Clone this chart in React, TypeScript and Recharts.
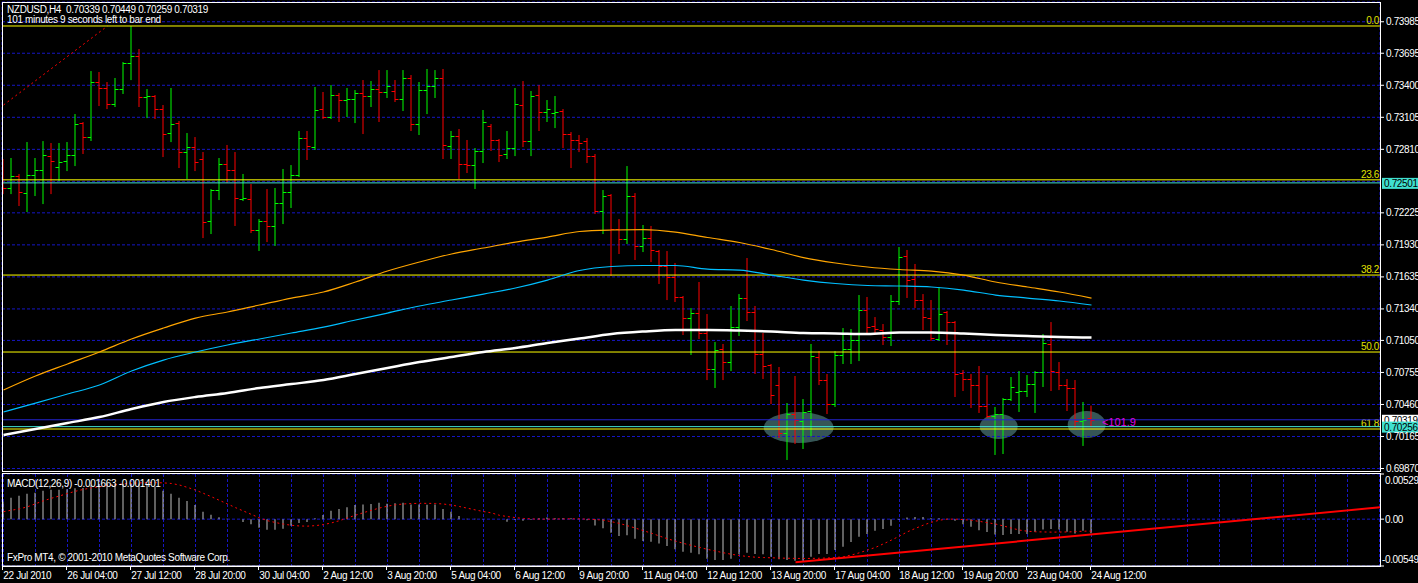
import React from 'react'
import {
  ComposedChart,
  Bar,
  Line,
  XAxis,
  YAxis,
  CartesianGrid,
  ReferenceLine,
  ReferenceDot,
} from 'recharts'

const FONT = '"Liberation Sans", Arial, sans-serif'
const GRID = '#1616c4'

// NZDUSD H4 bars, 22 Jul 2010 20:00 .. 24 Aug 2010 12:00
const opens = [
  0.72619, 0.72454, 0.72564, 0.72407, 0.72573, 0.72619, 0.72748, 0.72647, 0.72702, 0.72757,
  0.73052, 0.72923, 0.7343, 0.73375, 0.73227, 0.73365, 0.73605, 0.73669, 0.73292, 0.73301,
  0.73181, 0.7296, 0.73052, 0.72785, 0.72831, 0.72721, 0.7215, 0.72435, 0.72675, 0.72619,
  0.72352, 0.72352, 0.72067, 0.7215, 0.72104, 0.72315, 0.72417, 0.72573, 0.72914, 0.72831,
  0.73181, 0.73107, 0.7331, 0.73264, 0.73273, 0.73329, 0.73301, 0.73365, 0.73338, 0.73347,
  0.73273, 0.73467, 0.73043, 0.73356, 0.73393, 0.73467, 0.7284, 0.72932, 0.72675, 0.72665,
  0.72794, 0.73025, 0.72896, 0.72767, 0.72822, 0.73218, 0.72886, 0.7331, 0.73154, 0.73144,
  0.73163, 0.72951, 0.72896, 0.72886, 0.72748, 0.72242, 0.72389, 0.72076, 0.71984, 0.7238,
  0.71919, 0.71993, 0.71873, 0.71735, 0.71634, 0.7145, 0.71256, 0.71302, 0.71118, 0.70787,
  0.70971, 0.70851, 0.71173, 0.7144, 0.71312, 0.70925, 0.70823, 0.70639, 0.70197, 0.70372,
  0.70308, 0.704, 0.70897, 0.70685, 0.70464, 0.70915, 0.70971, 0.71054, 0.7133, 0.71183,
  0.71146, 0.71081, 0.71413, 0.71827, 0.71615, 0.71422, 0.71256, 0.71063, 0.71312, 0.71219,
  0.7075, 0.70694, 0.70639, 0.70446, 0.70354, 0.70372, 0.7051, 0.70575, 0.70584, 0.70648,
  0.70759, 0.71017, 0.70759, 0.70639, 0.70612, 0.70308, 0.70339,
]
const highs = [
  0.72721, 0.7273, 0.72583, 0.72877, 0.7273, 0.72886, 0.72868, 0.72868, 0.72877, 0.73135,
  0.73061, 0.73531, 0.73522, 0.7343, 0.73467, 0.73614, 0.73946, 0.73734, 0.73365, 0.7331,
  0.73218, 0.73375, 0.73071, 0.7296, 0.72923, 0.72785, 0.72444, 0.7273, 0.7285, 0.72785,
  0.72583, 0.7249, 0.72168, 0.72444, 0.72454, 0.72629, 0.72665, 0.72979, 0.72979, 0.73384,
  0.73338, 0.73402, 0.73329, 0.73375, 0.73356, 0.73448, 0.73439, 0.7354, 0.7354, 0.73448,
  0.7354, 0.73494, 0.7343, 0.7355, 0.7354, 0.7355, 0.72979, 0.72997, 0.72896, 0.72822,
  0.73172, 0.73043, 0.72905, 0.72979, 0.73375, 0.73439, 0.73347, 0.73402, 0.73264, 0.73301,
  0.73181, 0.72969, 0.72942, 0.72914, 0.72767, 0.72435, 0.72398, 0.72168, 0.72656, 0.72407,
  0.72113, 0.72104, 0.71883, 0.71873, 0.71763, 0.71459, 0.71348, 0.71588, 0.71293, 0.71035,
  0.71017, 0.71367, 0.71477, 0.71809, 0.71367, 0.71118, 0.70833, 0.70805, 0.70473, 0.70722,
  0.7051, 0.71017, 0.70952, 0.7074, 0.70952, 0.71164, 0.71155, 0.71468, 0.7145, 0.71265,
  0.71201, 0.71468, 0.7191, 0.71883, 0.71754, 0.71477, 0.71422, 0.71542, 0.71321, 0.71229,
  0.70777, 0.7074, 0.70814, 0.70731, 0.70437, 0.70519, 0.70713, 0.70768, 0.70731, 0.70768,
  0.71109, 0.71219, 0.70851, 0.70694, 0.70685, 0.70483, 0.70449,
]
const lows = [
  0.72407, 0.72407, 0.72297, 0.72242, 0.72389, 0.72315, 0.72407, 0.72527, 0.72619, 0.72665,
  0.72776, 0.72896, 0.73218, 0.7319, 0.73209, 0.73329, 0.73457, 0.73209, 0.73107, 0.73098,
  0.72748, 0.72886, 0.72647, 0.72546, 0.72619, 0.72002, 0.72039, 0.72352, 0.72509, 0.72113,
  0.72343, 0.72048, 0.71883, 0.71965, 0.71929, 0.72131, 0.72279, 0.72564, 0.72721, 0.72813,
  0.73098, 0.73098, 0.73071, 0.73117, 0.73061, 0.7296, 0.73209, 0.73071, 0.73292, 0.73255,
  0.73172, 0.72988, 0.72951, 0.73144, 0.73292, 0.7273, 0.7273, 0.72546, 0.72601, 0.72454,
  0.72693, 0.72804, 0.72702, 0.7273, 0.72757, 0.7284, 0.72757, 0.72988, 0.73071, 0.73015,
  0.72831, 0.72647, 0.72794, 0.72693, 0.72223, 0.72039, 0.71652, 0.71855, 0.71947, 0.718,
  0.71873, 0.71781, 0.71579, 0.71431, 0.71413, 0.71109, 0.70925, 0.71072, 0.70694, 0.70621,
  0.70694, 0.70777, 0.711, 0.71238, 0.7075, 0.70704, 0.70473, 0.7016, 0.69958, 0.70105,
  0.70059, 0.70179, 0.70648, 0.70381, 0.70446, 0.70842, 0.70842, 0.70869, 0.71118, 0.71118,
  0.71017, 0.71008, 0.71385, 0.7145, 0.71358, 0.71155, 0.71054, 0.71054, 0.71017, 0.70538,
  0.70593, 0.70437, 0.70391, 0.70344, 0.70004, 0.70013, 0.70501, 0.704, 0.70538, 0.70391,
  0.7063, 0.70593, 0.70602, 0.70409, 0.70252, 0.70087, 0.70259,
]
const closes = [
  0.72454, 0.72564, 0.72417, 0.72573, 0.72619, 0.72757, 0.72702, 0.72693, 0.72757, 0.73043,
  0.72923, 0.7343, 0.73375, 0.73227, 0.73365, 0.73605, 0.73669, 0.73292, 0.73301, 0.73181,
  0.72951, 0.73043, 0.72785, 0.72831, 0.72693, 0.7214, 0.72435, 0.72675, 0.72619, 0.72361,
  0.72361, 0.72067, 0.7215, 0.72104, 0.72315, 0.72417, 0.72573, 0.72914, 0.7284, 0.73172,
  0.73107, 0.7331, 0.73264, 0.73273, 0.73329, 0.73301, 0.73365, 0.73338, 0.73393, 0.73273,
  0.73467, 0.73043, 0.73356, 0.73393, 0.73467, 0.7285, 0.72932, 0.72675, 0.72665, 0.72794,
  0.73061, 0.72896, 0.72757, 0.72822, 0.73227, 0.72886, 0.73301, 0.73154, 0.73181, 0.73154,
  0.72951, 0.72896, 0.72868, 0.72748, 0.72242, 0.7238, 0.72076, 0.71984, 0.7238, 0.71919,
  0.71993, 0.71883, 0.71735, 0.71634, 0.7145, 0.71256, 0.71302, 0.71118, 0.70787, 0.70962,
  0.70851, 0.71173, 0.7144, 0.71312, 0.70925, 0.70814, 0.70547, 0.70197, 0.70372, 0.70317,
  0.70391, 0.70906, 0.70685, 0.70464, 0.70915, 0.70971, 0.71054, 0.7133, 0.71173, 0.71155,
  0.71081, 0.71413, 0.71818, 0.71606, 0.71422, 0.71265, 0.71072, 0.71293, 0.71219, 0.7074,
  0.70694, 0.70639, 0.70446, 0.70354, 0.70372, 0.7051, 0.70621, 0.70584, 0.70648, 0.70759,
  0.71026, 0.70768, 0.70639, 0.70612, 0.70308, 0.70317, 0.70319,
]

// moving averages, read every 4th bar
const maOrange = [
  0.70593, 0.70722, 0.70833, 0.70943, 0.71063, 0.71164, 0.71256, 0.71312, 0.71376, 0.7144,
  0.71496, 0.71588, 0.71689, 0.71772, 0.71846, 0.71901, 0.71956, 0.72002, 0.72053, 0.72067,
  0.72071, 0.72048, 0.71998, 0.71952, 0.71887, 0.71813, 0.71763, 0.71726, 0.71703, 0.71689,
  0.71652, 0.71588, 0.71542, 0.71496, 0.7144,
]
const maBlue = [
  0.70391, 0.70473, 0.70556, 0.70639, 0.70768, 0.70869, 0.70943, 0.71008, 0.71063, 0.71118,
  0.71173, 0.71238, 0.71302, 0.71367, 0.71422, 0.71477, 0.71533, 0.71606, 0.71694, 0.71731,
  0.7174, 0.7174, 0.71707, 0.71698, 0.71652, 0.71606, 0.71574, 0.71556, 0.71551, 0.71542,
  0.71514, 0.71468, 0.7144, 0.71413, 0.71376,
]
const maWhite = [
  0.70179, 0.70234, 0.70289, 0.70344, 0.70418, 0.70483, 0.70529, 0.70566, 0.70612, 0.70648,
  0.70685, 0.7074, 0.70796, 0.70851, 0.70897, 0.70943, 0.7098, 0.71026, 0.71067, 0.71109,
  0.71132, 0.71146, 0.71146, 0.71141, 0.71132, 0.71118, 0.71114, 0.71109, 0.71123, 0.71123,
  0.71114, 0.711, 0.7109, 0.71081, 0.71077,
]

// MACD(12,26,9)
const macdMain = [
  0.00204, 0.00251, 0.00274, 0.00298, 0.00309, 0.00333, 0.00345, 0.00345, 0.00349, 0.00361,
  0.00364, 0.00396, 0.00411, 0.00411, 0.00411, 0.00411, 0.00419, 0.00419, 0.00411, 0.0038,
  0.00333, 0.00298, 0.00251, 0.00212, 0.00165, 0.00087, 0.00052, 0.00021, 0.00005, -0.00002,
  -0.00034, -0.00061, -0.001, -0.00124, -0.00124, -0.00112, -0.00077, -0.00046, -0.00034, 0.0001,
  0.00048, 0.00098, 0.00118, 0.00138, 0.00165, 0.00173, 0.00177, 0.00192, 0.0018, 0.00185,
  0.00192, 0.00173, 0.00173, 0.00169, 0.00173, 0.00118, 0.00087, 0.00036, 0.00005, 0.00005,
  0.00002, -0.00001, -0.00002, -0.0003, -0.0001, -0.0002, -0.0001, 0.0001, 0.0002, 0.0001,
  0.0001, 0.0001, 0.00005, -0.00013, -0.00073, -0.00108, -0.00159, -0.00198, -0.0019, -0.0023,
  -0.00257, -0.00265, -0.00284, -0.00315, -0.00354, -0.00382, -0.00394, -0.00412, -0.00464, -0.00479,
  -0.00479, -0.00464, -0.00412, -0.00394, -0.00409, -0.00412, -0.00441, -0.00471, -0.00479, -0.00487,
  -0.00487, -0.00441, -0.00409, -0.00409, -0.00362, -0.00323, -0.00268, -0.00206, -0.00175, -0.00136,
  -0.00116, -0.00077, -0.0001, 0.0002, 0.00025, 0.00025, 0.0001, 0.0001, 0.00005, -0.0002,
  -0.0006, -0.0009, -0.0013, -0.0015, -0.0018, -0.00186, -0.00175, -0.00175, -0.00175, -0.00147,
  -0.0012, -0.00116, -0.0012, -0.00147, -0.00167, -0.00136, -0.00166,
]
const macdSignal = [
  0.00087, 0.00105, 0.0012, 0.00145, 0.0018, 0.00215, 0.00245, 0.00272, 0.003, 0.00327,
  0.00349, 0.00367, 0.0038, 0.00395, 0.00405, 0.00413, 0.0042, 0.00425, 0.00428, 0.00428,
  0.00425, 0.00418, 0.004, 0.00372, 0.00341, 0.00302, 0.00262, 0.0022, 0.00178, 0.00135,
  0.00095, 0.00055, 0.00015, -0.00018, -0.0004, -0.00058, -0.00072, -0.0008, -0.00082, -0.00076,
  -0.00064, -0.00044, -0.00018, 0.00015, 0.00046, 0.00076, 0.00104, 0.0013, 0.00152, 0.00168,
  0.00178, 0.00183, 0.00185, 0.00185, 0.00184, 0.00177, 0.00165, 0.00148, 0.00128, 0.00108,
  0.00089, 0.00073, 0.00045, 0.0003, 0.00018, 0.00008, 0.00003, 0, 0, 0.00002,
  0.00003, 0.00004, 0.00003, 0, -0.00005, -0.00012, -0.0003, -0.0005, -0.00077, -0.00105,
  -0.00135, -0.00165, -0.00198, -0.0023, -0.00257, -0.00284, -0.00308, -0.00331, -0.00354, -0.00374,
  -0.00394, -0.00412, -0.00426, -0.00438, -0.00446, -0.0045, -0.00453, -0.00456, -0.00458, -0.0046,
  -0.00461, -0.0046, -0.00458, -0.00455, -0.0045, -0.0044, -0.0042, -0.00394, -0.00362, -0.00331,
  -0.00289, -0.00245, -0.00198, -0.00148, -0.00108, -0.00069, -0.00036, -0.00012, 0, 0,
  -0.00005, -0.00014, -0.00026, -0.00042, -0.00057, -0.0008, -0.00105, -0.00128, -0.00142, -0.00148,
  -0.0015, -0.00152, -0.00151, -0.0015, -0.00146, -0.00141, -0.0014,
]

const timeLabels = [
  '22 Jul 2010', '26 Jul 04:00', '27 Jul 12:00', '28 Jul 20:00', '30 Jul 04:00', '2 Aug 12:00',
  '3 Aug 20:00', '5 Aug 04:00', '6 Aug 12:00', '9 Aug 20:00', '11 Aug 04:00', '12 Aug 12:00',
  '13 Aug 20:00', '17 Aug 04:00', '18 Aug 12:00', '19 Aug 20:00', '23 Aug 04:00', '24 Aug 12:00',
]
const priceTicks = [
  0.73985, 0.73695, 0.734, 0.73105, 0.7281, 0.72515, 0.72225, 0.7193, 0.71635, 0.7134,
  0.7105, 0.70755, 0.7046, 0.70165, 0.6987,
]
const hiddenPriceTicks = [0.72515]
const macdTicks = [0.00529, 0, -0.00549]

const fibNames = ['0.0', '23.6', '38.2', '50.0', '61.8']
const fibPrices = [0.73946, 0.72529, 0.71652, 0.70943, 0.70234]
// fibo anchor line (dotted) and MACD trend line
const fibTrend = [
  { x: 0, y: 0.73218 },
  { x: 13, y: 0.73946 },
]
const macdTrend = [
  { x: 99, y: -0.00506 },
  { x: 172.06, y: 0.00138 },
]
const ellipseBars = [99.4, 124.4, 135.4]
const ellipsePrices = [0.70248, 0.70257, 0.70275]
const ellipseRadii = [
  [35, 15.5],
  [19, 12.5],
  [19, 13.5],
]

const header = 'NZDUSD,H4  0.70339 0.70449 0.70259 0.70319'
const timer = '101 minutes 9 seconds left to bar end'
const macdTitle = 'MACD(12,26,9) -0.001663 -0.001401'
const copyright = 'FxPro MT4, \u00a9 2001-2010 MetaQuotes Software Corp.'
const expansionText = '<101.9'

const X_DOMAIN: [number, number] = [-0.1875, 172.0625]
const PRICE_DOMAIN: [number, number] = [0.69838, 0.74167]
const gridTicks = Array.from({ length: 44 }, (_, k) => k * 4)

const rows = opens.map((o, i) => ({
  i,
  open: o,
  high: highs[i],
  low: lows[i],
  close: closes[i],
  maOrange: i % 4 === 0 ? maOrange[i / 4] : null,
  maBlue: i % 4 === 0 ? maBlue[i / 4] : null,
  maWhite: i % 4 === 0 ? maWhite[i / 4] : null,
  macd: macdMain[i],
  signal: macdSignal[i],
}))

const textStyle = { fontFamily: FONT, fontSize: 10, letterSpacing: -0.35 }
const MAIN_MARGIN = { top: 2, right: 0, left: 2, bottom: 0 }

function OhlcBar(props: any) {
  const { x, y, width, height, payload } = props
  if (!payload) return null
  const top = Math.min(y, y + height)
  const bottom = Math.max(y, y + height)
  const cx = x + width / 2
  const span = payload.high - payload.low
  const py = (p: number) => (span > 0 ? top + ((payload.high - p) / span) * (bottom - top) : top)
  const color = payload.close >= payload.open ? '#00ff00' : '#ff0000'
  const oy = Math.round(py(payload.open)) + 0.5
  const cy = Math.round(py(payload.close)) + 0.5
  return (
    <g>
      <line x1={cx} x2={cx} y1={top} y2={bottom + 1} stroke={color} />
      <line x1={cx - 3.5} x2={cx} y1={oy} y2={oy} stroke={color} />
      <line x1={cx} x2={cx + 3.5} y1={cy} y2={cy} stroke={color} />
    </g>
  )
}

function PriceTick(props: any) {
  const { x, y, payload } = props
  if (hiddenPriceTicks.includes(payload.value)) return null
  return (
    <g>
      <line x1={x + 1} x2={x + 4} y1={y} y2={y} stroke="#fff" />
      <text x={x + 6} y={y + 3.5} fill="#fff" style={textStyle}>
        {payload.value.toFixed(5)}
      </text>
    </g>
  )
}

function MacdTick(props: any) {
  const { x, y, payload } = props
  const v = payload.value
  const dy = v > 0 ? 10 : v < 0 ? -3 : 3.5
  const label = v === 0 ? '0.00' : v.toFixed(5)
  return (
    <g>
      <line x1={x + 1} x2={x + 4} y1={y} y2={y} stroke="#fff" />
      <text x={x + (v < 0 ? 2 : 5)} y={y + dy} fill="#fff" style={textStyle}>
        {label}
      </text>
    </g>
  )
}

function TimeTick(props: any) {
  const { x, y, payload } = props
  const v = payload.value
  if (v % 8 !== 0 || v / 8 >= timeLabels.length) return null
  return (
    <g>
      <line x1={x - 1} x2={x - 1} y1={y} y2={y + 4} stroke="#fff" />
      <text x={x - 0.2} y={y + 13} fill="#fff" style={textStyle}>
        {timeLabels[v / 8]}
      </text>
    </g>
  )
}

function FibLabel({ viewBox, text }: any) {
  if (!viewBox) return null
  return (
    <text
      x={viewBox.x + viewBox.width - 1}
      y={viewBox.y - 2}
      textAnchor="end"
      fill="#e0e000"
      style={textStyle}
    >
      {text}
    </text>
  )
}

function PriceTag({ viewBox, text, bg }: any) {
  if (!viewBox) return null
  const x = viewBox.x + viewBox.width + 2
  const y = viewBox.y
  return (
    <g>
      <rect x={x} y={y - 5} width={38} height={11} fill={bg} />
      <text x={x + 2} y={y + 4} fill="#000" style={textStyle}>
        {text}
      </text>
    </g>
  )
}

export default function App() {
  const xAxisMain = (
    <XAxis
      dataKey="i"
      type="number"
      domain={X_DOMAIN}
      ticks={gridTicks}
      interval={0}
      allowDataOverflow
      height={0}
      tick={false}
      axisLine={false}
      tickLine={false}
    />
  )
  return (
    <div
      style={{
        position: 'absolute',
        left: 0,
        top: 0,
        width: 1418,
        height: 583,
        background: '#000',
        overflow: 'hidden',
        fontFamily: FONT,
      }}
    >
      {/* background objects (ellipses) sit under grid, lines and bars */}
      <div style={{ position: 'absolute', left: 0, top: 0 }}>
        <ComposedChart width={1418} height={472} data={rows} margin={MAIN_MARGIN}>
          {xAxisMain}
          <YAxis orientation="right" width={38} domain={PRICE_DOMAIN} allowDataOverflow tick={false} axisLine={false} tickLine={false} />
          {ellipseBars.map((b, k) => (
            <ReferenceDot
              key={`ell-${k}`}
              x={b}
              y={ellipsePrices[k]}
              r={1}
              ifOverflow="visible"
              shape={(p: any) => (
                <ellipse cx={p.cx} cy={p.cy} rx={ellipseRadii[k][0]} ry={ellipseRadii[k][1]} fill="#365656" />
              )}
            />
          ))}
        </ComposedChart>
      </div>

      <div style={{ position: 'absolute', left: 0, top: 0 }}>
        <ComposedChart width={1418} height={472} data={rows} margin={MAIN_MARGIN}>
          <CartesianGrid stroke={GRID} strokeDasharray="3 2" />
          {xAxisMain}
          <YAxis
            orientation="right"
            width={38}
            domain={PRICE_DOMAIN}
            ticks={priceTicks}
            interval={0}
            allowDataOverflow
            axisLine={false}
            tickLine={false}
            tickSize={0}
            tickMargin={0}
            tick={<PriceTick />}
          />
          <ReferenceLine segment={fibTrend} stroke="#ff0000" strokeDasharray="2 3" ifOverflow="visible" />
          {fibPrices.map((p, k) => (
            <ReferenceLine
              key={`fib-${k}`}
              y={p}
              stroke="#ffff00"
              label={(lp: any) => <FibLabel {...lp} text={fibNames[k]} />}
            />
          ))}
          <ReferenceLine
            y={0.72501}
            stroke="#40e0d0"
            label={(lp: any) => <PriceTag {...lp} text="0.72501" bg="#40e0d0" />}
          />
          <ReferenceLine
            y={0.70319}
            stroke="#2424d0"
            label={(lp: any) => <PriceTag {...lp} text="0.70319" bg="#ffffff" />}
          />
          <ReferenceLine
            y={0.70256}
            stroke="#40e0d0"
            label={(lp: any) => <PriceTag {...lp} text="0.70256" bg="#40e0d0" />}
          />
          <Bar
            dataKey={(d: any) => [d.low, d.high]}
            barSize={7}
            shape={(p: any) => <OhlcBar {...p} />}
            isAnimationActive={false}
          />
          <Line type="monotone" dataKey="maWhite" stroke="#ffffff" strokeWidth={2.5} dot={false} connectNulls isAnimationActive={false} />
          <Line type="monotone" dataKey="maOrange" stroke="#ffa500" strokeWidth={1.2} dot={false} connectNulls isAnimationActive={false} />
          <Line type="monotone" dataKey="maBlue" stroke="#00bfff" strokeWidth={1.2} dot={false} connectNulls isAnimationActive={false} />
          <ReferenceDot
            x={137.3}
            y={0.70303}
            r={1}
            ifOverflow="visible"
            shape={(p: any) => (
              <text x={p.cx} y={p.cy + 4} fill="#e000e0" style={{ fontFamily: FONT, fontSize: 11 }}>
                {expansionText}
              </text>
            )}
          />
        </ComposedChart>
      </div>

      <div style={{ position: 'absolute', left: 0, top: 473 }}>
        <ComposedChart width={1418} height={110} data={rows} margin={{ top: 1, right: 0, left: 2, bottom: 0 }}>
          <CartesianGrid stroke={GRID} strokeDasharray="3 2" />
          <XAxis
            dataKey="i"
            type="number"
            domain={X_DOMAIN}
            ticks={gridTicks}
            interval={0}
            allowDataOverflow
            height={17}
            axisLine={{ stroke: '#ffffff' }}
            tickLine={false}
            tickSize={0}
            tickMargin={0}
            tick={<TimeTick />}
          />
          <YAxis
            orientation="right"
            width={38}
            domain={[-0.00549, 0.00529]}
            ticks={macdTicks}
            interval={0}
            allowDataOverflow
            axisLine={false}
            tickLine={false}
            tickSize={0}
            tickMargin={0}
            tick={<MacdTick />}
          />
          <Bar dataKey="macd" fill="#c0c0c0" barSize={1} isAnimationActive={false} />
          <Line
            dataKey="signal"
            stroke="#ff0000"
            strokeDasharray="2 3"
            dot={false}
            isAnimationActive={false}
          />
          <ReferenceLine segment={macdTrend} stroke="#ff0000" strokeWidth={2} ifOverflow="visible" />
        </ComposedChart>
      </div>

      <div
        style={{
          position: 'absolute',
          left: 2,
          top: 2,
          width: 1379,
          height: 470,
          boxSizing: 'border-box',
          border: '1px solid #fff',
          pointerEvents: 'none',
        }}
      />
      <div
        style={{
          position: 'absolute',
          left: 2,
          top: 473,
          width: 1379,
          height: 94,
          boxSizing: 'border-box',
          border: '1px solid #fff',
          pointerEvents: 'none',
        }}
      />

      <div style={{ position: 'absolute', left: 7, top: 5, color: '#fff', whiteSpace: 'pre', lineHeight: '10px', ...textStyle }}>
        {header}
      </div>
      <div style={{ position: 'absolute', left: 7, top: 14.5, color: '#fff', whiteSpace: 'pre', lineHeight: '10px', ...textStyle }}>
        {timer}
      </div>
      <div style={{ position: 'absolute', left: 7, top: 478.5, color: '#fff', whiteSpace: 'pre', lineHeight: '10px', ...textStyle }}>
        {macdTitle}
      </div>
      <div style={{ position: 'absolute', left: 7, top: 552.5, color: '#fff', whiteSpace: 'pre', lineHeight: '10px', ...textStyle }}>
        {copyright}
      </div>
    </div>
  )
}
